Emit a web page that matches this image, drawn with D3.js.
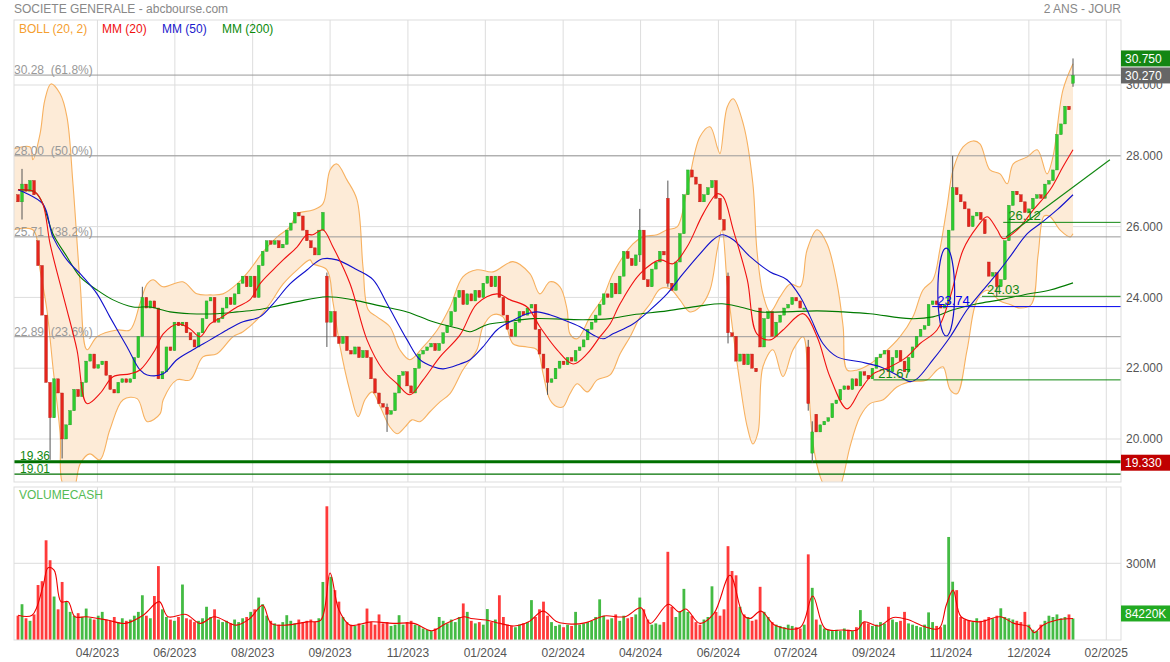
<!DOCTYPE html>
<html>
<head>
<meta charset="utf-8">
<script src="https://cdn.jsdelivr.net/npm/d3@7"></script>
<style>
body { margin: 0; background: #fff; }
svg { display: block; font-family: "Liberation Sans", Arial, sans-serif; }
</style>
</head>
<body>
<svg id="chart" width="1170" height="662"></svg>
<script>
// cours de cloture (1 barre = 2 seances environ)
const closes = [
  26.7, 27.2, 27.0, 27.3, 26.9, 24.9, 23.5, 21.6, 20.6, 21.7,
  21.3, 20.0, 20.4, 20.8, 21.4, 21.2, 21.6, 22.2, 22.4, 22.0,
  22.1, 22.2, 21.8, 21.4, 21.3, 21.6, 21.7, 21.6, 21.7, 22.3,
  22.9, 24.0, 23.7, 23.9, 23.7, 21.7, 21.9, 22.6, 22.5, 23.3,
  23.2, 23.3, 23.0, 22.8, 22.6, 23.0, 23.4, 23.9, 24.0, 23.3,
  23.4, 23.7, 24.0, 23.8, 24.1, 24.4, 24.6, 24.3, 24.6, 24.0,
  24.9, 25.3, 25.6, 25.5, 25.6, 25.4, 25.5, 25.9, 26.1, 26.4,
  26.3, 25.9, 25.6, 25.4, 25.2, 25.9, 26.4, 23.3, 23.6, 22.9,
  22.7, 22.9, 22.5, 22.4, 22.6, 22.3, 22.5, 22.3, 21.7, 21.3,
  21.0, 20.9, 20.7, 20.8, 21.3, 21.8, 21.9, 21.5, 21.3, 22.0,
  22.4, 22.5, 22.6, 22.7, 22.5, 22.7, 23.0, 23.2, 23.6, 24.0,
  24.2, 23.8, 24.1, 23.9, 24.2, 24.0, 24.4, 24.6, 24.3, 24.6,
  24.0, 23.5, 23.1, 22.9, 23.3, 23.6, 23.5, 23.7, 23.8, 23.1,
  22.4, 22.0, 21.6, 21.7, 22.0, 22.2, 22.1, 22.3, 22.2, 22.5,
  22.6, 22.8, 23.1, 23.3, 23.5, 23.8, 24.1, 24.0, 24.4, 24.1,
  24.6, 25.3, 25.1, 24.9, 25.2, 25.9, 24.5, 24.3, 24.8, 25.0,
  25.3, 25.2, 24.4, 24.2, 25.0, 25.8, 26.9, 27.6, 27.4, 27.2,
  26.7, 26.9, 27.1, 27.3, 26.8, 26.2, 25.9, 23.0, 22.9, 22.2,
  22.4, 22.1, 22.4, 22.0, 21.9, 22.6, 23.4, 23.6, 22.9, 23.3,
  23.5, 23.7, 23.8, 24.0, 23.9, 23.7, 23.7, 21.0, 20.2, 20.2,
  20.4, 20.5, 20.6, 21.0, 21.1, 21.4, 21.5, 21.4, 21.7, 21.5,
  21.9, 21.8, 21.7, 22.0, 22.3, 22.4, 22.5, 21.9, 22.3, 22.5,
  22.2, 21.9, 22.3, 22.6, 22.9, 23.1, 23.2, 23.8, 23.9, 23.8,
  23.7, 23.8, 25.9, 27.1, 26.9, 26.7, 26.5, 26.0, 26.3, 26.4,
  26.2, 25.8, 24.6, 24.7, 24.3, 24.5, 25.6, 26.6, 27.0, 26.9,
  26.7, 26.4, 26.5, 26.8, 26.9, 26.8, 27.2, 27.3, 27.6, 28.6,
  28.9, 29.4, 29.3, 30.27
];

// ouvertures en gap (sinon ouverture = cloture precedente)
const openGaps = [[0, 26.9], [5, 25.6], [77, 24.6], [162, 26.8], [177, 24.6],
  [185, 23.7], [197, 22.6], [198, 19.6], [199, 20.7], [242, 25.0], [263, 30.05]];

// meches visibles : [barre, plus haut, plus bas]
const wicks = [[1, 27.63, 26.2], [8, 21.2, 19.41], [11, 20.9, 19.45], [31, 24.3, 23.4],
  [77, 24.7, 22.6], [92, 21.0, 20.2], [132, 21.8, 21.25], [155, 26.5, 25.0],
  [162, 27.3, 24.3], [177, 24.7, 22.7], [197, 22.8, 20.8], [198, 20.5, 19.33],
  [233, 28.0, 26.7], [244, 24.5, 24.03], [263, 30.75, 29.95]];

// volumes en millions d'euros
const volumes = [
  95, 140, 85, 75, 100, 215, 230, 390, 312, 170,
  120, 227, 150, 110, 95, 105, 90, 123, 85, 80,
  95, 110, 80, 75, 90, 70, 85, 75, 80, 95,
  110, 175, 95, 85, 172, 289, 120, 90, 80, 75,
  90, 217, 85, 80, 70, 75, 85, 130, 90, 120,
  80, 70, 75, 65, 80, 70, 85, 90, 110, 120,
  166, 140, 95, 75, 65, 60, 70, 97, 75, 65,
  80, 70, 75, 80, 70, 85, 227, 523, 247, 195,
  150, 90, 70, 60, 55, 65, 60, 123, 70, 60,
  100, 65, 70, 55, 60, 97, 60, 70, 75, 60,
  55, 45, 40, 35, 45, 90, 75, 65, 80, 70,
  90, 143, 110, 75, 65, 70, 60, 121, 70, 80,
  175, 90, 60, 55, 50, 60, 65, 70, 156, 90,
  120, 150, 95, 70, 55, 60, 50, 60, 55, 110,
  60, 65, 70, 75, 90, 159, 95, 80, 85, 100,
  75, 95, 85, 90, 100, 166, 120, 80, 60, 65,
  60, 70, 345, 130, 90, 110, 200, 110, 95, 70,
  60, 80, 90, 210, 110, 95, 120, 367, 270, 253,
  130, 100, 90, 75, 80, 208, 110, 90, 70, 60,
  55, 50, 60, 55, 50, 45, 60, 335, 204, 80,
  60, 45, 40, 35, 40, 35, 45, 40, 35, 50,
  117, 70, 65, 55, 60, 70, 65, 130, 80, 70,
  75, 110, 65, 60, 55, 50, 60, 108, 70, 55,
  50, 60, 403, 228, 195, 90, 80, 75, 70, 85,
  75, 80, 90, 85, 95, 124, 90, 85, 80, 75,
  70, 110, 60, 40, 35, 60, 75, 95, 90, 100,
  85, 90, 100, 84.22
];

// moyenne des volumes [barre, M]
const volMA = [[0, 97], [3.5, 97], [6.2, 208], [7.5, 283], [9, 273], [10.7, 150], [12.5, 150],
  [14.2, 91], [17, 91], [22.2, 78], [26.7, 65], [31.2, 97], [35.2, 150], [37.4, 91],
  [41.9, 100], [45.4, 65], [48.9, 91], [54.4, 58], [57.8, 84], [61, 136], [63.1, 65],
  [66.8, 58], [72.1, 71], [75.5, 78], [77.8, 262], [80, 117], [82.8, 58], [88, 71],
  [93.5, 65], [98.7, 65], [103.2, 36], [106.7, 65], [111.2, 91], [112.9, 84], [116.7, 78],
  [120.2, 65], [123.7, 55], [127.3, 71], [130.9, 113], [134.4, 71], [137.9, 62], [141.6, 68],
  [146.1, 94], [151.3, 91], [155.3, 126], [157.6, 65], [162.1, 140], [164.8, 110],
  [166.5, 121], [170, 65], [173.5, 104], [177.5, 253], [180.8, 97], [182.5, 84],
  [185.2, 113], [188.7, 58], [195, 49], [198.1, 172], [201.2, 45], [205.7, 39], [209.2, 39],
  [210.9, 71], [214.6, 55], [218.2, 88], [221.6, 81], [226.1, 52], [229.6, 45], [231.4, 136],
  [233.1, 195], [235.1, 91], [239.5, 71], [244.8, 91], [248.3, 65], [252, 52], [253.3, 29],
  [255.5, 58], [259, 78], [263, 84]];

// moyennes mobiles [barre, cours]
const ma20 = [[0, 27.04], [4.2, 26.98], [6.2, 26.64], [8, 25.51], [10.5, 24.38], [12.2, 23.65],
  [14.7, 22.52], [17.2, 21.0], [20.4, 21.28], [23.7, 21.76], [27.9, 21.84], [30.4, 21.95],
  [34.2, 22.52], [36.2, 22.97], [39.9, 23.25], [42.9, 23.11], [45.4, 22.89], [47.9, 23.25],
  [50.9, 23.45], [54.6, 23.73], [57.8, 23.93], [60.3, 24.38], [63.6, 24.78], [66.1, 25.06],
  [69.6, 25.43], [72, 25.77], [73.5, 25.77], [76, 25.91], [78.5, 25.43], [82.8, 24.38],
  [87, 22.8], [91, 21.95], [94.5, 21.56], [97.7, 21.25], [101, 21.67], [105.2, 22.32],
  [110.2, 22.94], [114.4, 23.82], [119.4, 24.1], [122.7, 23.93], [126.9, 23.73],
  [130.1, 23.17], [134.4, 22.52], [138.4, 22.12], [141.9, 22.41], [145.1, 22.89],
  [147.6, 23.25], [150.1, 23.82], [155.1, 24.67], [160.1, 25.06], [163.3, 24.95],
  [166.8, 25.43], [170.8, 26.36], [174.3, 26.93], [175.8, 26.84], [178.3, 25.91],
  [181.8, 24.5], [184.2, 22.97], [187.5, 22.8], [190.7, 23.08], [195.7, 23.54],
  [199.2, 22.89], [202.4, 21.76], [206.7, 20.85], [210, 21.39], [213.2, 21.84],
  [217.4, 22.04], [221.6, 22.32], [224.8, 22.69], [229.1, 23.08], [232.4, 24.02],
  [235.6, 25.34], [239.1, 25.99], [241.6, 26.28], [244.1, 25.91], [245.6, 25.66],
  [249.1, 25.91], [253.1, 26.47], [257.3, 27.04], [260.5, 27.69], [263, 28.17]];

const ma50 = [[0, 27.04], [6.2, 26.64], [8.7, 25.71], [12.2, 25.06], [15.5, 24.67], [16.2, 24.58],
  [19.7, 24.1], [22.9, 23.45], [27.2, 22.6], [30.4, 21.95], [32.2, 21.81], [36.2, 21.84],
  [39.6, 22.24], [43.6, 22.52], [47.9, 22.8], [52.1, 23.08], [56.1, 23.31], [60.3, 23.45],
  [63.6, 23.82], [67.8, 24.38], [72.1, 24.78], [73.5, 24.92], [76, 25.09], [79.5, 25.06],
  [84.5, 24.78], [88.5, 24.5], [92, 23.82], [97, 22.8], [100.2, 22.24], [103.5, 22.04],
  [106, 21.98], [110.2, 22.12], [112.7, 22.24], [115.9, 22.6], [119.4, 23.08], [122.7, 23.31],
  [126.9, 23.54], [129.4, 23.59], [132.6, 23.51], [135.9, 23.37], [140.1, 23.17],
  [143.4, 22.94], [145.9, 22.83], [148.3, 22.97], [153.3, 23.25], [157.6, 23.65],
  [161.8, 24.1], [165.8, 24.67], [170, 25.23], [173.3, 25.63], [175.5, 25.77], [178.3, 25.63],
  [182.5, 25.15], [187.5, 24.72], [191.7, 24.5], [195, 24.02], [197.5, 23.45], [200.7, 22.69],
  [204.2, 22.32], [209.9, 22.18], [214.9, 22.04], [219.1, 21.81], [222.4, 21.62],
  [224.1, 21.7], [228.1, 22.24], [232.4, 22.89], [236.6, 23.65], [240.6, 24.21],
  [244.8, 24.78], [247.3, 25.15], [251.6, 25.8], [254.8, 26.08], [259, 26.47], [263, 26.9]];

const ma200 = [[0, 27.04], [4.2, 26.98], [6.2, 26.64], [8.7, 25.8], [12.2, 25.15], [15.5, 24.58],
  [19.7, 24.21], [23.7, 23.93], [28.7, 23.73], [32.9, 23.73], [37.9, 23.59], [42.9, 23.54],
  [49.6, 23.54], [54.6, 23.59], [59.6, 23.65], [64.6, 23.76], [69.6, 23.88], [77, 24.02],
  [83.5, 23.93], [90.3, 23.76], [97, 23.59], [103.5, 23.31], [110.2, 23.11], [112.7, 23.03],
  [116.9, 23.23], [121.9, 23.31], [128.4, 23.4], [140.9, 23.37], [147.6, 23.4], [153.3, 23.51],
  [161.8, 23.62], [170, 23.76], [175.5, 23.82], [180, 23.73], [185, 23.59], [190.7, 23.59],
  [199.2, 23.62], [205.7, 23.59], [212.4, 23.54], [222.4, 23.4], [228.1, 23.45],
  [233.1, 23.65], [239.1, 23.82], [244.8, 23.93], [250.6, 24.07], [257.3, 24.21], [263, 24.41]];

// bandes de Bollinger (20, 2)
const bollUp = [[-1, 28.2], [3, 28.25], [3.7, 27.89], [5.5, 28.62], [6.7, 29.58], [8.2, 30.03],
  [10.5, 29.75], [12.2, 29.1], [13.7, 27.21], [15.5, 24.38], [17.2, 22.52], [19.7, 22.89],
  [24.7, 23.08], [27.9, 23.08], [30.4, 23.82], [32.2, 24.38], [33.7, 24.5], [36.2, 24.3],
  [41.1, 24.44], [44.6, 24.1], [47.9, 24.07], [51.1, 24.1], [54.6, 24.38], [57.8, 24.78],
  [61.1, 25.29], [64.6, 25.71], [67.8, 25.99], [69.6, 26.36], [73.5, 26.47], [76, 26.64],
  [77.8, 27.6], [79.5, 27.77], [82, 27.32], [84.5, 26.76], [86, 24.86], [87.3, 23.65],
  [89.5, 23.45], [92.7, 23.17], [95.2, 22.52], [97.7, 22.24], [101, 22.6], [104.5, 23.08],
  [107.7, 23.73], [110.9, 24.58], [114.4, 24.78], [118.4, 24.72], [123.4, 25.01],
  [127.6, 24.67], [130.1, 24.1], [132.6, 24.44], [135.1, 24.3], [136.9, 23.65], [137.6, 22.97],
  [139.4, 22.83], [142.6, 23.45], [145.9, 24.02], [148.3, 24.67], [153.3, 25.51],
  [155.8, 25.71], [159.3, 25.77], [161.8, 25.91], [164.3, 25.99], [166.8, 27.04], [170, 28.54],
  [172.5, 28.82], [174.3, 28.25], [175, 28.06], [176.8, 29.38], [178.3, 29.61], [180.8, 28.9],
  [183.2, 27.21], [184.2, 25.34], [185.7, 24.1], [187.5, 23.59], [190, 24.02], [192.5, 24.38],
  [195, 24.3], [196.7, 25.34], [199.2, 25.91], [201.7, 25.51], [204.2, 24.38], [205.7, 23.17],
  [206.7, 21.95], [209.2, 21.95], [212.4, 22.12], [215.7, 22.41], [219.9, 22.89],
  [223.1, 23.45], [225.6, 24.21], [228.1, 24.5], [229.8, 25.34], [231.6, 26.56], [233.1, 27.6],
  [235.6, 28.25], [238.1, 28.42], [239.8, 28.34], [242.3, 27.6], [244.8, 27.49], [246.6, 27.21],
  [248.1, 27.77], [251.6, 27.97], [254.1, 28.17], [256.5, 27.49], [258, 27.97], [260.5, 29.86],
  [263, 30.6]];

const bollLow = [[-1, 25.91], [3.7, 25.91], [5.5, 24.78], [7.2, 23.65], [8.7, 22.04], [10.5, 20.15],
  [11.2, 18.73], [13.7, 18.56], [15.5, 19.3], [17.9, 19.58], [20.4, 19.41], [22.9, 20.26],
  [26.2, 21.11], [29.7, 21.14], [32.2, 20.49], [35.4, 20.71], [36.2, 21.11], [39.6, 21.67],
  [42.9, 21.67], [46.1, 22.32], [49.6, 22.41], [53.6, 22.89], [56.1, 23.03], [59.6, 23.37],
  [62.8, 23.82], [66.1, 24.38], [69.6, 24.78], [72.8, 25.06], [73.5, 24.95], [77, 24.78],
  [78.5, 23.88], [80.3, 22.6], [82.8, 21.33], [84.8, 20.63], [86.5, 21.11], [88.3, 21.33],
  [90.3, 20.91], [92.7, 20.34], [94.5, 20.15], [96.5, 20.34], [98.2, 20.54], [100.2, 20.49],
  [102.7, 20.77], [105.2, 21.05], [107.7, 21.28], [110.9, 21.95], [114.4, 22.52],
  [115.9, 23.17], [118.4, 23.51], [120.9, 23.45], [123.4, 22.69], [126.9, 22.6], [129.4, 22.52],
  [130.9, 21.84], [132.6, 21.11], [134.4, 20.91], [135.9, 20.91], [137.6, 21.28],
  [139.4, 21.56], [141.9, 21.33], [144.4, 21.67], [147.6, 21.81], [150.1, 22.41],
  [152.6, 22.89], [155.1, 23.45], [157.6, 23.82], [160.1, 24.24], [162.6, 24.24], [165, 23.93],
  [167.5, 23.59], [170, 23.73], [172.5, 24.21], [174.3, 25.34], [175.5, 25.91], [176.8, 24.38],
  [178.3, 22.97], [180, 21.56], [181.8, 20.34], [183.2, 19.86], [184.5, 20.2], [185.7, 22.04],
  [188.2, 22.52], [190.7, 21.76], [193.2, 22.52], [195.7, 22.89], [197, 21.56], [198.2, 19.86],
  [200, 18.93], [201.7, 18.56], [204.2, 18.45], [205.7, 18.93], [207.4, 19.78], [209.9, 20.63],
  [212.4, 21.0], [215.7, 21.11], [219.1, 21.47], [222.4, 21.62], [226.6, 21.67], [229.1, 21.95],
  [230.6, 22.04], [232.4, 21.39], [234.1, 21.28], [236.6, 22.52], [239.1, 23.93],
  [241.6, 24.2], [244.8, 23.9], [247.3, 23.8], [249.8, 23.7], [252.6, 23.8], [254.3, 25.2],
  [255.8, 26.3], [257.3, 26.28], [259.8, 25.9], [262.3, 25.71], [263, 25.8]];

// niveaux de Fibonacci
const fibLevels = [30.28, 28.00, 25.71, 22.89];
const fibPct = ["61.8%", "50.0%", "38.2%", "23.6%"];
// supports / resistances traces : [cours, barre de depart, libelle]
const supports = [[21.67, 213.2, "21.67"], [24.03, 240.3, "24.03"], [26.12, 245.6, "26.12"]];
const blueLevel = [23.74, 227.9, "23.74"];
const lowLines = [[19.36, "19.36", 3], [19.01, "19.01", 1.2]];
const trendLine = [[246.3, 25.71], [272.2, 27.89]];
const ellipse = [231.4, 24.15, 2.1, 1.24];

const priceTicks = [20, 22, 24, 26, 28, 30];
const monthLabels = ["04/2023", "06/2023", "08/2023", "09/2023", "11/2023", "01/2024", "02/2024",
  "04/2024", "06/2024", "07/2024", "09/2024", "11/2024", "12/2024", "02/2025"];
const monthIdx = [19.8, 39.1, 58.5, 77.8, 97.2, 116.5, 135.9, 155.2, 174.6, 193.9, 213.3, 232.6, 252.0, 271.3];

const lastHigh = 30.75, lastClose = 30.27, periodLow = 19.33;

// ---------- mise en page ----------
const L = 14, R = 1121;
const pTop = 20, pBot = 482, vTop = 487, vBot = 640;

const svg = d3.select("#chart");
const x = d3.scaleLinear().domain([0, closes.length - 1]).range([18, 1073]);
const y = d3.scaleLinear().domain([20, 30]).range([439, 85]);
const yv = d3.scaleLinear().domain([0, 300]).range([vBot, 563.3]);

const defs = svg.append("defs");
defs.append("clipPath").attr("id", "clipP").append("rect")
  .attr("x", L).attr("y", pTop).attr("width", R - L).attr("height", pBot - pTop);
defs.append("clipPath").attr("id", "clipV").append("rect")
  .attr("x", L).attr("y", vTop).attr("width", R - L).attr("height", vBot - vTop);

// titres
svg.append("text").attr("x", L).attr("y", 13).attr("font-size", 12).attr("fill", "#888")
  .text("SOCIETE GENERALE - abcbourse.com");
svg.append("text").attr("x", R).attr("y", 13).attr("font-size", 12).attr("fill", "#888")
  .attr("text-anchor", "end").text("2 ANS - JOUR");

// grilles
const grid = svg.append("g");
monthIdx.forEach(m => {
  grid.append("line").attr("x1", x(m)).attr("x2", x(m)).attr("y1", pTop).attr("y2", pBot)
    .attr("stroke", "#ddd");
  grid.append("line").attr("x1", x(m)).attr("x2", x(m)).attr("y1", vTop).attr("y2", vBot)
    .attr("stroke", "#ddd");
});
priceTicks.forEach(t => {
  grid.append("line").attr("x1", L).attr("x2", R).attr("y1", y(t)).attr("y2", y(t))
    .attr("stroke", "#ddd");
});
grid.append("line").attr("x1", L).attr("x2", R).attr("y1", yv(300)).attr("y2", yv(300))
  .attr("stroke", "#ddd");

const gP = svg.append("g").attr("clip-path", "url(#clipP)");

// Bollinger
const curve = d3.curveCatmullRom.alpha(0.5);
const lineGen = d3.line().x(d => x(d[0])).y(d => y(d[1])).curve(curve);
const upPath = lineGen(bollUp);
const lowPath = lineGen(bollLow.slice().reverse());
gP.append("path").attr("d", upPath + "L" + lowPath.slice(1) + "Z")
  .attr("fill", "#fdebd7").attr("stroke", "none");
[bollUp, bollLow].forEach(b => {
  gP.append("path").attr("d", lineGen(b)).attr("fill", "none")
    .attr("stroke", "#f7b160").attr("stroke-width", 1.1);
});

// Fibonacci (au-dessus du fond des bandes)
fibLevels.forEach((f, i) => {
  gP.append("line").attr("x1", L).attr("x2", R).attr("y1", y(f)).attr("y2", y(f))
    .attr("stroke", "#999").attr("stroke-width", 1);
  gP.append("text").attr("x", L).attr("y", y(f) - 1).attr("font-size", 12).attr("fill", "#999")
    .style("white-space", "pre").text(f.toFixed(2) + "  (" + fibPct[i] + ")");
});

// niveaux bas
lowLines.forEach(l => {
  gP.append("line").attr("x1", L).attr("x2", R).attr("y1", y(l[0])).attr("y2", y(l[0]))
    .attr("stroke", "#007000").attr("stroke-width", l[2]);
  gP.append("text").attr("x", 20).attr("y", y(l[0]) - (l[2] > 2 ? 2 : 1)).attr("font-size", 12)
    .attr("fill", "#118811").text(l[1]);
});

// chandeliers
const gapMap = new Map(openGaps);
const wickMap = new Map(wicks.map(w => [w[0], w]));
const bars = closes.map((c, i) => {
  const o = gapMap.has(i) ? gapMap.get(i) : closes[i - 1];
  return { i, o, c, up: c >= o };
});
const bw = 2.8;
bars.forEach(b => {
  const w = wickMap.get(b.i);
  const hi = w ? w[1] : Math.max(b.o, b.c);
  const lo = w ? w[2] : Math.min(b.o, b.c);
  gP.append("line").attr("x1", x(b.i)).attr("x2", x(b.i)).attr("y1", y(hi)).attr("y2", y(lo))
    .attr("stroke", "#555").attr("stroke-width", 1);
  const top = y(Math.max(b.o, b.c)), bot = y(Math.min(b.o, b.c));
  gP.append("rect").attr("x", x(b.i) - bw / 2).attr("y", top)
    .attr("width", bw).attr("height", Math.max(1.2, bot - top))
    .attr("fill", b.up ? "#2ecc2e" : "#e5251c")
    .attr("stroke", b.up ? "#2a9a2a" : "#b5281e").attr("stroke-width", 0.4);
});

// moyennes mobiles
[[ma200, "#007a00"], [ma50, "#1010cc"], [ma20, "#f01010"]].forEach(m => {
  gP.append("path").attr("d", lineGen(m[0])).attr("fill", "none")
    .attr("stroke", m[1]).attr("stroke-width", 1.1);
});

// supports traces
supports.forEach(s => {
  gP.append("line").attr("x1", x(s[1])).attr("x2", R).attr("y1", y(s[0])).attr("y2", y(s[0]))
    .attr("stroke", "#118811").attr("stroke-width", 1);
  gP.append("text").attr("x", x(s[1]) + 5).attr("y", y(s[0]) - 2).attr("font-size", 13)
    .attr("fill", "#118811").text(s[2]);
});
gP.append("line").attr("x1", x(blueLevel[1])).attr("x2", R)
  .attr("y1", y(blueLevel[0])).attr("y2", y(blueLevel[0]))
  .attr("stroke", "#0000ee").attr("stroke-width", 1);
gP.append("text").attr("x", x(blueLevel[1]) + 5).attr("y", y(blueLevel[0]) - 2).attr("font-size", 13)
  .attr("fill", "#0000ee").text(blueLevel[2]);
gP.append("ellipse").attr("cx", x(ellipse[0])).attr("cy", y(ellipse[1]))
  .attr("rx", x(ellipse[2]) - x(0)).attr("ry", y(0) - y(ellipse[3]))
  .attr("fill", "none").attr("stroke", "#1010cc").attr("stroke-width", 1.2);
gP.append("line").attr("x1", x(trendLine[0][0])).attr("y1", y(trendLine[0][1]))
  .attr("x2", x(trendLine[1][0])).attr("y2", y(trendLine[1][1]))
  .attr("stroke", "#118811").attr("stroke-width", 1.1);

// legende
const legend = [["BOLL (20, 2)", "#f5a030", 19], ["MM (20)", "#f01010", 102],
  ["MM (50)", "#1a1acc", 162], ["MM (200)", "#0a8a0a", 222]];
legend.forEach(l => {
  svg.append("text").attr("x", l[2]).attr("y", 33).attr("font-size", 12).attr("fill", l[1]).text(l[0]);
});

// volumes
const gV = svg.append("g").attr("clip-path", "url(#clipV)");
volumes.forEach((v, i) => {
  gV.append("rect").attr("x", x(i) - bw / 2).attr("y", yv(v))
    .attr("width", bw).attr("height", vBot - yv(v))
    .attr("fill", bars[i].up ? "#44bb44" : "#ff3a3a");
});
gV.append("path")
  .attr("d", d3.line().x(d => x(d[0])).y(d => yv(d[1])).curve(curve)(volMA))
  .attr("fill", "none").attr("stroke", "#ee0000").attr("stroke-width", 1.1);
svg.append("text").attr("x", 19).attr("y", 499).attr("font-size", 12).attr("fill", "#55bb55")
  .text("VOLUMECASH");

// cadres
[[pTop, pBot], [vTop, vBot]].forEach(p => {
  svg.append("rect").attr("x", L).attr("y", p[0]).attr("width", R - L).attr("height", p[1] - p[0])
    .attr("fill", "none").attr("stroke", "#ddd");
});

// axe des dates
monthLabels.forEach((m, i) => {
  svg.append("text").attr("x", x(monthIdx[i])).attr("y", 657).attr("text-anchor", "middle")
    .attr("font-size", 12).attr("fill", "#555").text(m);
});

// axe des cours (30.000 passe sous l'etiquette 30.270, comme sur l'original)
priceTicks.forEach(t => {
  svg.append("text").attr("x", 1126).attr("y", y(t)).attr("dy", "0.35em").attr("font-size", 12)
    .attr("fill", "#555").text(t.toFixed(3));
});
svg.append("text").attr("x", 1126).attr("y", yv(300)).attr("dy", "0.35em").attr("font-size", 12)
  .attr("fill", "#555").text("300M");

// etiquettes de valeurs
function tag(yPos, label, color) {
  svg.append("rect").attr("x", R).attr("y", yPos - 8).attr("width", 1170 - R).attr("height", 16)
    .attr("fill", color);
  svg.append("text").attr("x", 1125).attr("y", yPos).attr("dy", "0.35em").attr("font-size", 12)
    .attr("fill", "#fff").text(label);
}
tag(y(lastHigh), lastHigh.toFixed(3), "#138613");
tag(y(lastClose), lastClose.toFixed(3), "#666");
tag(y(periodLow), periodLow.toFixed(3), "#c00000");
const lastVol = volumes[volumes.length - 1];
tag(yv(lastVol) - 5, Math.round(lastVol * 1000) + "K", "#22aa22");
</script>
</body>
</html>
